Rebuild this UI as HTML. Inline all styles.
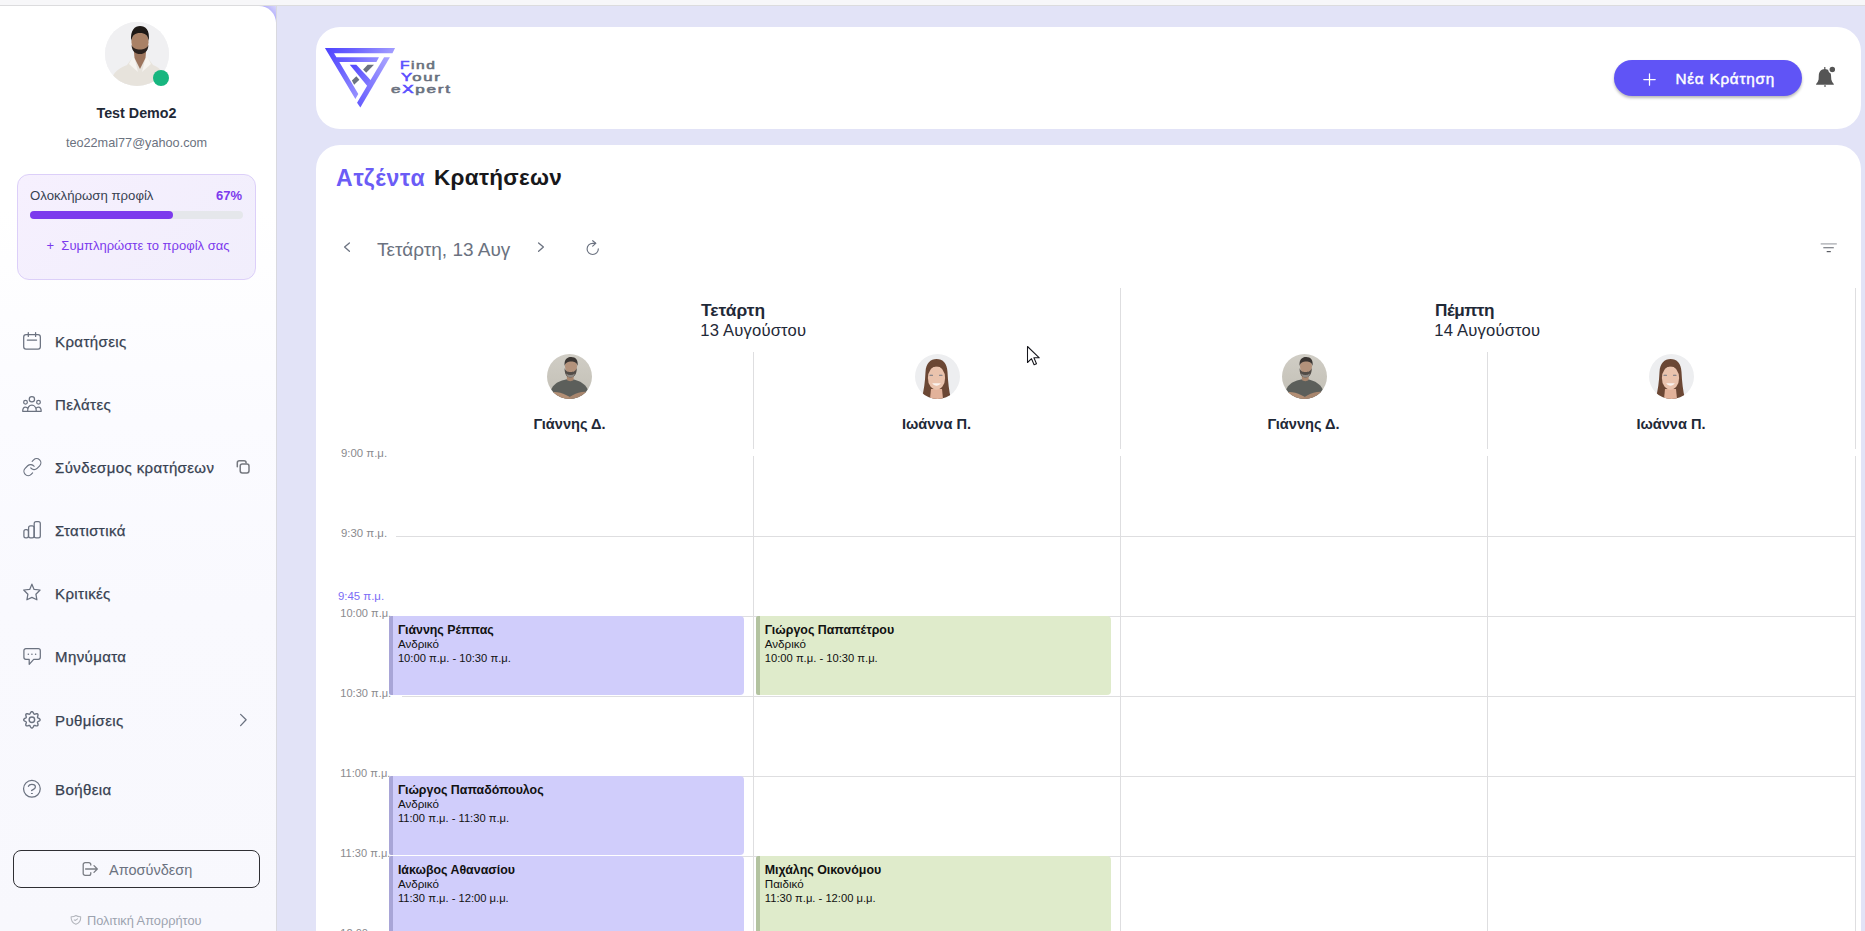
<!DOCTYPE html>
<html><head><meta charset="utf-8">
<style>
*{box-sizing:border-box;margin:0;padding:0}
html,body{width:1865px;height:931px;overflow:hidden}
body{position:relative;background:#E2E3F7;font-family:"Liberation Sans",sans-serif;color:#1f2937}
.abs{position:absolute}
.t{position:absolute;white-space:nowrap;line-height:1}
#topstrip{left:0;top:0;width:1865px;height:6px;background:#F7F7F9;border-bottom:1px solid #DCDCDE}
#sbback{left:256px;top:6px;width:20px;height:24px;background:linear-gradient(225deg,#D8D6FC 0%,#A8A3FB 40%,#8C86FA 70%)}
#sidebar{left:0;top:6px;width:276px;height:925px;background:linear-gradient(180deg,#FFFFFF 0%,#FFFFFF 22%,#FBFBFF 45%,#F9F9FE 65%,#F8F8FD 100%);border-top-right-radius:17px}
#sbline{left:276px;top:6px;width:1px;height:925px;background:#D9D9DF}
#header{left:316px;top:27px;width:1545px;height:102px;background:#fff;border-radius:24px}
#main{left:316px;top:145px;width:1545px;height:820px;background:#fff;border-radius:24px}
.nav{position:absolute;left:0;width:276px;height:24px}
.nav svg{position:absolute;left:22px;top:2px;width:20px;height:20px;fill:none;stroke:#6B7280;stroke-width:1.5;stroke-linecap:round;stroke-linejoin:round}
.nav span{position:absolute;left:55px;top:4px;font-size:15.2px;color:#374151;line-height:1;white-space:nowrap;-webkit-text-stroke:0.15px #374151}
.ev{position:absolute;border-radius:2px 4px 4px 2px;color:#111;white-space:nowrap;overflow:hidden}
.ev div{position:absolute;left:8.5px;line-height:14px}
.ev .n{top:6.6px;font-size:12.4px;font-weight:bold}
.ev .s{top:20.9px;font-size:11.6px}
.ev .m{top:34.9px;font-size:11.2px}
.ev1{background:linear-gradient(90deg,#A8A5D7 3.5px,#D0CDFB 3.5px)}
.ev2{background:linear-gradient(90deg,#B3C3A0 3.5px,#DFEBCB 3.5px)}
</style></head><body>
<div id="topstrip" class="abs"></div>
<div id="sbback" class="abs"></div>
<div id="sidebar" class="abs"></div>
<div id="sbline" class="abs"></div>

<!-- avatar -->
<div class="abs" style="left:105px;top:22px;width:64px;height:64px;border-radius:50%;overflow:hidden;background:#F1F1F3">
<svg width="64" height="64" viewBox="0 0 64 64">
<rect width="64" height="64" fill="#F0F0F2"/>
<path d="M5 64 C6 52 12 47 22 43 L28 35 L35 42 L42 35 L48 43 C56 46 60 52 61 64 Z" fill="#E7E3DC"/>
<path d="M29 30 L29.5 36 L35 47 L40.5 36 L41 30Z" fill="#9C755D"/>
<path d="M28 34 L24 42 L33 50 L30 38Z M42 34 L46 42 L37 50 L40 38Z" fill="#F6F4F0"/>
<ellipse cx="35" cy="20" rx="8.6" ry="11" fill="#A98166"/>
<path d="M26.2 19 C25 8 30 4 35 4 C40.5 4 45 7.5 43.8 19 C42.8 13 40 11 35 11 C30 11 27.5 13 26.2 19Z" fill="#1E1916"/>
<path d="M26.5 23 C27 29.5 30.5 32 35 32 C39.5 32 43 29.5 43.5 23 C41.5 26.5 39 27.5 35 27.5 C31 27.5 28.5 26.5 26.5 23Z" fill="#2B221E"/>
</svg></div>
<div class="abs" style="left:153px;top:70px;width:16px;height:16px;border-radius:50%;background:#17B67F"></div>

<div class="t" style="left:0;width:273px;text-align:center;top:106px;font-size:14.3px;font-weight:bold;color:#1F2937">Test Demo2</div>
<div class="t" style="left:0;width:273px;text-align:center;top:137px;font-size:12.7px;color:#6B7280">teo22mal77@yahoo.com</div>

<!-- profile card -->
<div class="abs" style="left:17px;top:174px;width:239px;height:106px;border-radius:12px;border:1px solid #DCCFF9;background:linear-gradient(135deg,#F6F0FE 0%,#F1EEFC 100%)"></div>
<div class="t" style="left:30px;top:189px;font-size:13.2px;color:#374151">Ολοκλήρωση προφίλ</div>
<div class="t" style="left:216px;top:189px;font-size:13px;font-weight:bold;color:#7C3AED">67%</div>
<div class="abs" style="left:30px;top:211px;width:213px;height:8px;border-radius:4px;background:#E5E7EB"></div>
<div class="abs" style="left:30px;top:211px;width:143px;height:8px;border-radius:4px;background:#7C3AED"></div>
<div class="t" style="left:0;width:276px;text-align:center;top:239px;font-size:13px;color:#7C3AED">+&nbsp; Συμπληρώστε το προφίλ σας</div>

<!-- nav -->
<svg style="position:absolute;left:18px;top:326px;width:30px;height:30px;fill:none;stroke:#6B7280;stroke-width:1.25;stroke-linecap:round;stroke-linejoin:round" viewBox="0 0 30 30"><rect x="5.7" y="8.6" width="16.65" height="14.5" rx="2.3"/><path d="M10.3 6.5v3.9M17.6 6.5v3.9M9.3 14.1h9.3" /></svg><svg style="position:absolute;left:18px;top:389px;width:30px;height:30px;fill:none;stroke:#6B7280;stroke-width:1.25;stroke-linecap:round;stroke-linejoin:round" viewBox="0 0 30 30"><circle cx="13.9" cy="10.3" r="2.65"/><circle cx="7.5" cy="13.2" r="1.85"/><circle cx="20.5" cy="13.2" r="1.85"/><path d="M4.7 22.3C4.7 19.6 5.8 18 7.4 18c1.1 0 2 .6 2.5 1.6M9.6 22.3c0-3.8 1.9-6.2 4.3-6.2s4.4 2.4 4.4 6.2M17.9 19.6c.5-1 1.4-1.6 2.5-1.6 1.6 0 2.8 1.6 2.8 4.3M4.7 22.3h18.5"/></svg><svg style="position:absolute;left:18px;top:452px;width:30px;height:30px;fill:none;stroke:#6B7280;stroke-width:1.25;stroke-linecap:round;stroke-linejoin:round" viewBox="0 0 30 30"><g transform="translate(4.2,4.9) scale(0.85)" stroke-width="1.4"><path d="M10 13a5 5 0 0 0 7.54.54l3-3a5 5 0 0 0-7.07-7.07l-1.72 1.71"/><path d="M14 11a5 5 0 0 0-7.54-.54l-3 3a5 5 0 0 0 7.07 7.07l1.71-1.71"/></g></svg><svg style="position:absolute;left:228px;top:452px;width:30px;height:30px;fill:none;stroke:#75787F;stroke-width:1.5;stroke-linecap:round;stroke-linejoin:round" viewBox="0 0 30 30"><path d="M9.3 14.8V10.9a2.1 2.1 0 0 1 2.1-2.1h4.6a2.1 2.1 0 0 1 2.1 2.1"/><rect x="12.2" y="12.1" width="8.8" height="8.8" rx="2.1"/></svg><svg style="position:absolute;left:18px;top:515px;width:30px;height:30px;fill:none;stroke:#6B7280;stroke-width:1.25;stroke-linecap:round;stroke-linejoin:round" viewBox="0 0 30 30"><rect x="5.9" y="14.5" width="4.5" height="8.4" rx="1.9"/><rect x="10.6" y="10.8" width="5.5" height="12.1" rx="1.9"/><rect x="16.2" y="6.7" width="6.1" height="16.2" rx="1.9"/></svg><svg style="position:absolute;left:18px;top:578px;width:30px;height:30px;fill:none;stroke:#6B7280;stroke-width:1.25;stroke-linecap:round;stroke-linejoin:round" viewBox="0 0 30 30"><path d="M13.9 6.2 L16.1 11.4 L22.1 12 L17.9 16.2 L18.9 21.8 L13.9 19.4 L8.9 21.8 L9.9 16.2 L5.7 12 L11.7 11.4 Z"/></svg><svg style="position:absolute;left:18px;top:641px;width:30px;height:30px;fill:none;stroke:#6B7280;stroke-width:1.25;stroke-linecap:round;stroke-linejoin:round" viewBox="0 0 30 30"><path d="M7.9 7.7h12.4a2 2 0 0 1 2 2v6.6a2 2 0 0 1-2 2h-4.6l-4.5 5v-5H7.9a2 2 0 0 1-2-2V9.7a2 2 0 0 1 2-2z"/><path d="M10.3 13.2h.05M13.9 13.2h.05M17.6 13.2h.05" stroke-width="1.5"/></svg><svg style="position:absolute;left:18px;top:705px;width:30px;height:30px;fill:none;stroke:#6B7280;stroke-width:1.4;stroke-linecap:round;stroke-linejoin:round" viewBox="0 0 30 30"><path d="M13.90 6.60 L14.22 6.66 L14.53 6.83 L14.81 7.09 L15.07 7.42 L15.29 7.79 L15.49 8.16 L15.67 8.51 L15.85 8.81 L16.03 9.03 L16.23 9.16 L16.48 9.21 L16.76 9.19 L17.09 9.10 L17.47 8.98 L17.87 8.85 L18.29 8.75 L18.71 8.70 L19.10 8.72 L19.43 8.82 L19.70 9.00 L19.88 9.27 L19.98 9.60 L20.00 9.99 L19.95 10.41 L19.85 10.83 L19.72 11.23 L19.60 11.61 L19.51 11.94 L19.49 12.22 L19.54 12.47 L19.67 12.67 L19.89 12.85 L20.19 13.03 L20.54 13.21 L20.91 13.41 L21.28 13.63 L21.61 13.89 L21.87 14.17 L22.04 14.48 L22.10 14.80 L22.04 15.12 L21.87 15.43 L21.61 15.71 L21.28 15.97 L20.91 16.19 L20.54 16.39 L20.19 16.57 L19.89 16.75 L19.67 16.93 L19.54 17.13 L19.49 17.38 L19.51 17.66 L19.60 17.99 L19.72 18.37 L19.85 18.77 L19.95 19.19 L20.00 19.61 L19.98 20.00 L19.88 20.33 L19.70 20.60 L19.43 20.78 L19.10 20.88 L18.71 20.90 L18.29 20.85 L17.87 20.75 L17.47 20.62 L17.09 20.50 L16.76 20.41 L16.48 20.39 L16.23 20.44 L16.03 20.57 L15.85 20.79 L15.67 21.09 L15.49 21.44 L15.29 21.81 L15.07 22.18 L14.81 22.51 L14.53 22.77 L14.22 22.94 L13.90 23.00 L13.58 22.94 L13.27 22.77 L12.99 22.51 L12.73 22.18 L12.51 21.81 L12.31 21.44 L12.13 21.09 L11.95 20.79 L11.77 20.57 L11.57 20.44 L11.32 20.39 L11.04 20.41 L10.71 20.50 L10.33 20.62 L9.93 20.75 L9.51 20.85 L9.09 20.90 L8.70 20.88 L8.37 20.78 L8.10 20.60 L7.92 20.33 L7.82 20.00 L7.80 19.61 L7.85 19.19 L7.95 18.77 L8.08 18.37 L8.20 17.99 L8.29 17.66 L8.31 17.38 L8.26 17.13 L8.13 16.93 L7.91 16.75 L7.61 16.57 L7.26 16.39 L6.89 16.19 L6.52 15.97 L6.19 15.71 L5.93 15.43 L5.76 15.12 L5.70 14.80 L5.76 14.48 L5.93 14.17 L6.19 13.89 L6.52 13.63 L6.89 13.41 L7.26 13.21 L7.61 13.03 L7.91 12.85 L8.13 12.67 L8.26 12.47 L8.31 12.22 L8.29 11.94 L8.20 11.61 L8.08 11.23 L7.95 10.83 L7.85 10.41 L7.80 9.99 L7.82 9.60 L7.92 9.27 L8.10 9.00 L8.37 8.82 L8.70 8.72 L9.09 8.70 L9.51 8.75 L9.93 8.85 L10.33 8.98 L10.71 9.10 L11.04 9.19 L11.32 9.21 L11.57 9.16 L11.77 9.03 L11.95 8.81 L12.13 8.51 L12.31 8.16 L12.51 7.79 L12.73 7.42 L12.99 7.09 L13.27 6.83 L13.58 6.66 L13.90 6.60Z"/><circle cx="13.9" cy="14.8" r="2.75"/></svg><svg style="position:absolute;left:228px;top:705px;width:30px;height:30px;fill:none;stroke:#6B7280;stroke-width:1.3;stroke-linecap:round;stroke-linejoin:round" viewBox="0 0 30 30"><path d="M12.6 9.4l5.5 5.4-5.5 5.8" /></svg><svg style="position:absolute;left:18px;top:774px;width:30px;height:30px;fill:none;stroke:#6B7280;stroke-width:1.25;stroke-linecap:round;stroke-linejoin:round" viewBox="0 0 30 30"><circle cx="13.9" cy="14.8" r="8.35"/><path d="M10.4 12.3c.5-1.3 1.8-2 3.4-2 2 0 3.6 1.1 3.6 2.7 0 1.9-2.2 2.3-3.8 3.5"/><path d="M13.4 19.5h1" stroke-width="1.1"/></svg><div style="position:absolute;left:55px;font-size:15px;letter-spacing:0.4px;color:#374151;line-height:1;white-space:nowrap;-webkit-text-stroke:0.25px #374151;top:333.8px">Κρατήσεις</div>
<div style="position:absolute;left:55px;font-size:15px;letter-spacing:0.4px;color:#374151;line-height:1;white-space:nowrap;-webkit-text-stroke:0.25px #374151;top:396.8px">Πελάτες</div>
<div style="position:absolute;left:55px;font-size:15px;letter-spacing:0.4px;color:#374151;line-height:1;white-space:nowrap;-webkit-text-stroke:0.25px #374151;top:459.8px">Σύνδεσμος κρατήσεων</div>
<div style="position:absolute;left:55px;font-size:15px;letter-spacing:0.4px;color:#374151;line-height:1;white-space:nowrap;-webkit-text-stroke:0.25px #374151;top:522.8px">Στατιστικά</div>
<div style="position:absolute;left:55px;font-size:15px;letter-spacing:0.4px;color:#374151;line-height:1;white-space:nowrap;-webkit-text-stroke:0.25px #374151;top:585.8px">Κριτικές</div>
<div style="position:absolute;left:55px;font-size:15px;letter-spacing:0.4px;color:#374151;line-height:1;white-space:nowrap;-webkit-text-stroke:0.25px #374151;top:649px">Μηνύματα</div>
<div style="position:absolute;left:55px;font-size:15px;letter-spacing:0.4px;color:#374151;line-height:1;white-space:nowrap;-webkit-text-stroke:0.25px #374151;top:712.7px">Ρυθμίσεις</div>
<div style="position:absolute;left:55px;font-size:15px;letter-spacing:0.4px;color:#374151;line-height:1;white-space:nowrap;-webkit-text-stroke:0.25px #374151;top:782.1px">Βοήθεια</div>
<!-- logout -->
<div class="abs" style="left:13px;top:850px;width:247px;height:38px;border:1.5px solid #2F2F33;border-radius:8px"></div>
<svg class="abs" style="left:75px;top:854px;width:30px;height:30px;fill:none;stroke:#7A7D84;stroke-width:1.3;stroke-linecap:round;stroke-linejoin:round" viewBox="0 0 30 30"><path d="M15.8 11.1V10.6a1.9 1.9 0 0 0-1.9-1.9H10.1a1.9 1.9 0 0 0-1.9 1.9v8.8a1.9 1.9 0 0 0 1.9 1.9h3.8a1.9 1.9 0 0 0 1.9-1.9v-.7"/><path d="M10.6 15h11.6M19 11.6l3.3 3.4-3.3 3.4"/></svg>
<div class="t" style="left:109px;top:863px;font-size:14.5px;color:#6B7280">Αποσύνδεση</div>
<svg class="abs" style="left:64px;top:906px;width:24px;height:24px;fill:none;stroke:#B3B6BD;stroke-width:1.05;stroke-linecap:round;stroke-linejoin:round" viewBox="0 0 24 24"><path d="M11.9 9.5c1.4 1 3 1.3 4.8 1.2.2 3.6-1.3 6.3-4.8 7.6-3.5-1.3-5-4-4.8-7.5 1.8.1 3.4-.3 4.8-1.3z"/><path d="M10.2 13.9l1 .6 2.4-1.6"/></svg>
<div class="t" style="left:87px;top:915px;font-size:12.8px;color:#9CA3AF">Πολιτική Απορρήτου</div>

<div id="header" class="abs"></div>
<div id="main" class="abs"></div>

<!-- logo -->
<svg class="abs" style="left:322px;top:44px;width:78px;height:68px" viewBox="0 0 1068 931">
<defs>
<linearGradient id="lg1" x1="0" y1="0" x2="1" y2="0.45"><stop offset="0" stop-color="#4C42FF"/><stop offset="0.35" stop-color="#6A61FF"/><stop offset="1" stop-color="#B5B1FF"/></linearGradient>
<linearGradient id="lg2" x1="0" y1="1" x2="1" y2="0"><stop offset="0" stop-color="#6359FF"/><stop offset="1" stop-color="#ABA6FF"/></linearGradient>
<linearGradient id="lg3" x1="0" y1="0" x2="1" y2="1"><stop offset="0" stop-color="#4F45FF"/><stop offset="1" stop-color="#8A82FF"/></linearGradient>
</defs>
<path d="M40 55 L1000 55 L965 125 L165 125 L198 180 L780 180 L745 245 L237 245 L497 685 L457 752 Z" fill="url(#lg1)"/>
<path d="M380 285 L470 285 L690 520 L640 600 Z" fill="url(#lg3)"/>
<path d="M850 180 L930 180 L525 870 L480 805 Z" fill="url(#lg2)"/>
<path d="M625 285 L712 285 L605 392 L563 350 Z" fill="#6B7280"/>
<path d="M470 442 L512 488 L440 558 L410 500 Z" fill="#6B7280"/>
</svg>
<div style="position:absolute;white-space:nowrap;line-height:1;font-weight:normal;-webkit-text-stroke:0.55px currentColor;font-size:11px;color:#6B7280;letter-spacing:1.1px;transform-origin:0 0;left:400px;top:59.5px;transform:scaleX(1.41)"><span style="color:#5B50FF">F</span>ind</div>
<div style="position:absolute;white-space:nowrap;line-height:1;font-weight:normal;-webkit-text-stroke:0.55px currentColor;font-size:11px;color:#6B7280;letter-spacing:1.1px;transform-origin:0 0;left:401px;top:71.5px;transform:scaleX(1.52)"><span style="color:#5B50FF">Y</span>our</div>
<div style="position:absolute;white-space:nowrap;line-height:1;font-weight:normal;-webkit-text-stroke:0.55px currentColor;font-size:11px;color:#6B7280;letter-spacing:1.1px;transform-origin:0 0;left:390.5px;top:83.5px;transform:scaleX(1.555)">e<span style="color:#5B50FF">X</span>pert</div>

<!-- new booking button -->
<div class="abs" style="left:1614px;top:60px;width:188px;height:36px;border-radius:18px;background:#6054F6;box-shadow:0 2px 3px rgba(0,0,0,0.28)"></div>
<svg class="abs" style="left:1643px;top:72.5px;width:13px;height:13px;fill:none;stroke:#fff;stroke-width:1.25;stroke-linecap:round" viewBox="0 0 13 13"><path d="M6.5 0.8v11.4M0.8 6.5h11.4"/></svg>
<div class="t" style="left:1675.5px;top:71px;font-size:15.3px;font-weight:normal;color:#fff;letter-spacing:0.75px;-webkit-text-stroke:0.45px #fff">Νέα Κράτηση</div>
<!-- bell -->
<svg class="abs" style="left:1813px;top:64px;width:24px;height:26px" viewBox="0 0 24 26"><rect x="11.2" y="3" width="1.2" height="3" fill="#555"/><path d="M11.8 5C8.4 5 5.9 7.8 5.8 11.2L5.6 15.6Q5.3 17.6 3.1 19.9V20.8H20.8V19.9Q18.6 17.6 18.3 15.6L18 11.2C17.9 7.8 15.2 5 11.8 5Z" fill="#555"/><ellipse cx="12" cy="22.1" rx="1.1" ry="0.75" fill="#555"/><circle cx="19.3" cy="5.4" r="3.4" fill="#555" stroke="#fff" stroke-width="1.3"/></svg>

<!-- title -->
<div class="t" style="left:336px;top:166.7px;font-size:23px;letter-spacing:0.8px;font-weight:bold;color:#6B5CF6">Ατζέντα</div>
<div class="t" style="left:434px;top:167.2px;font-size:22.5px;letter-spacing:0.3px;font-weight:bold;color:#18181B">Κρατήσεων</div>

<!-- date nav -->
<svg class="abs" style="left:342px;top:241px;width:10px;height:12px;fill:none;stroke:#6B7280;stroke-width:1.3;stroke-linecap:round;stroke-linejoin:round" viewBox="0 0 10 12"><path d="M7.4 1.9L2.6 6l4.8 4.2"/></svg>
<div class="t" style="left:377px;top:240px;font-size:19px;color:#6B7280">Τετάρτη, 13 Αυγ</div>
<svg class="abs" style="left:536px;top:241px;width:10px;height:12px;fill:none;stroke:#6B7280;stroke-width:1.3;stroke-linecap:round;stroke-linejoin:round" viewBox="0 0 10 12"><path d="M2.6 1.9L7.4 6l-4.8 4.2"/></svg>
<svg class="abs" style="left:584px;top:239px;width:18px;height:18px;fill:none;stroke:#6B7280;stroke-width:1.15;stroke-linecap:round;stroke-linejoin:round" viewBox="0 0 18 18"><path d="M14.3 9.9A5.6 5.6 0 1 1 8.7 4.3h3"/><path d="M8.7 1.7l3 2.6-3 2.9"/></svg>
<!-- filter -->
<svg class="abs" style="left:1819px;top:240px;width:20px;height:14px;fill:none;stroke-width:1.2" viewBox="0 0 20 14"><path d="M1.7 3.9h16.1" stroke="#A3A5AB"/><path d="M4.3 7.7h10.5" stroke="#7B7E85"/><path d="M7.7 11.6h4.1" stroke="#5A5D64"/></svg>

<!-- day headers -->
<div class="abs" style="left:1120px;top:288px;width:1px;height:161px;background:#DEDEE0"></div>
<div class="abs" style="left:1855px;top:288px;width:1px;height:161px;background:#DEDEE0"></div>
<div class="abs" style="left:753px;top:352px;width:1px;height:97px;background:#DEDEE0"></div>
<div class="abs" style="left:1487px;top:352px;width:1px;height:97px;background:#DEDEE0"></div>

<div class="t" style="left:701px;top:302px;font-size:17.4px;font-weight:bold;color:#1F2937">Τετάρτη</div>
<div class="t" style="left:700.3px;top:323px;font-size:16.6px;letter-spacing:0.18px;color:#1F2937">13 Αυγούστου</div>
<div class="t" style="left:1435px;top:302px;font-size:17.2px;letter-spacing:-0.5px;font-weight:bold;color:#1F2937">Πέμπτη</div>
<div class="t" style="left:1434.3px;top:323px;font-size:16.6px;letter-spacing:0.18px;color:#1F2937">14 Αυγούστου</div>

<div class="t" style="left:386px;width:367px;text-align:center;top:416.8px;font-size:14.6px;font-weight:bold;color:#1F2937">Γιάννης Δ.</div>
<div class="t" style="left:753px;width:367px;text-align:center;top:416.8px;font-size:14.6px;font-weight:bold;color:#1F2937">Ιωάννα Π.</div>
<div class="t" style="left:1120px;width:367px;text-align:center;top:416.8px;font-size:14.6px;font-weight:bold;color:#1F2937">Γιάννης Δ.</div>
<div class="t" style="left:1487px;width:368px;text-align:center;top:416.8px;font-size:14.6px;font-weight:bold;color:#1F2937">Ιωάννα Π.</div>

<div class="abs" style="left:547px;top:354px;width:45px;height:45px;border-radius:50%;overflow:hidden"><svg width="45" height="45" viewBox="0 0 45 45"><defs><linearGradient id="mbg" x1="0" y1="0" x2="0" y2="1"><stop offset="0" stop-color="#D0CDC5"/><stop offset="1" stop-color="#C2BFB5"/></linearGradient></defs><rect width="45" height="45" fill="url(#mbg)"/>
<path d="M3 45 L4 36 C6 31 10 28 15 26.5 L21 25 L27 25.5 C33 27 38 30 40.5 35 L42 45Z" fill="#5C5F5B"/>
<path d="M19.5 18 L20 26 C21.5 27.5 25 27.5 26.5 26 L27 18Z" fill="#A9876F"/>
<ellipse cx="24" cy="12.5" rx="6" ry="7.5" fill="#B3927B"/>
<path d="M17.6 12 C17 5.5 20 3 24.2 3 C28.8 3 31.3 5.8 30.6 12 C29.8 8.5 27.5 7.5 24.2 7.5 C21 7.5 18.6 8.5 17.6 12Z" fill="#3B3633"/>
<path d="M17.6 14 C17.5 20 19.5 23.5 23.5 23.5 C27.5 23.5 29.8 20 29.8 14 C28.5 17.5 26.5 18 23.5 18 C20.5 18 18.8 17.5 17.6 14Z" fill="#524C47"/>
<path d="M19 19.5 C20 22.5 21.5 23.5 23.5 23.5 C25.5 23.5 27 22.5 28 19.5 C26.5 20.5 25 21 23.5 21 C22 21 20.5 20.5 19 19.5Z" fill="#8E8984"/>
<path d="M3 38.5 C8 37 14 38.5 19 41 L25 44 L24 45 L3 45Z" fill="#B38F75"/>
<path d="M42 38 C36 37 30 38.5 26 41 L20 44.5 L21 45 L42 45Z" fill="#A8866E"/>
</svg></div>
<div class="abs" style="left:915px;top:354px;width:45px;height:45px;border-radius:50%;overflow:hidden"><svg width="45" height="45" viewBox="0 0 45 45"><rect width="45" height="45" fill="#EDEEF0"/>
<path d="M6.5 45 C9 36 10 28 10.5 18 C11 9 15.5 5 21.5 5 C28 5 32 9 32.5 18 C33 28 34 37 36 45Z" fill="#6B4734"/>
<path d="M15 45 L16 35 L27 35 L28 45Z" fill="#E2B29A"/>
<ellipse cx="21.5" cy="24" rx="8.6" ry="11.8" fill="#EAC3AD"/>
<path d="M12.5 19 C13 12 16.5 9 21 9 C25.5 9 29.5 12 30.5 19 C28.5 14.5 26 12.5 22 12.5 C17.5 12.5 14.5 14.5 12.5 19Z" fill="#6B4734"/>
<path d="M17.2 29.2 C19 32.5 24 32.5 25.8 29.2Z" fill="#FAF2EE"/>
<path d="M15 21.3h2.5M24.5 21.3h2.5" stroke="#6D7480" stroke-width="1.1" stroke-linecap="round"/>
</svg></div>
<div class="abs" style="left:1282px;top:354px;width:45px;height:45px;border-radius:50%;overflow:hidden"><svg width="45" height="45" viewBox="0 0 45 45"><defs><linearGradient id="mbg" x1="0" y1="0" x2="0" y2="1"><stop offset="0" stop-color="#D0CDC5"/><stop offset="1" stop-color="#C2BFB5"/></linearGradient></defs><rect width="45" height="45" fill="url(#mbg)"/>
<path d="M3 45 L4 36 C6 31 10 28 15 26.5 L21 25 L27 25.5 C33 27 38 30 40.5 35 L42 45Z" fill="#5C5F5B"/>
<path d="M19.5 18 L20 26 C21.5 27.5 25 27.5 26.5 26 L27 18Z" fill="#A9876F"/>
<ellipse cx="24" cy="12.5" rx="6" ry="7.5" fill="#B3927B"/>
<path d="M17.6 12 C17 5.5 20 3 24.2 3 C28.8 3 31.3 5.8 30.6 12 C29.8 8.5 27.5 7.5 24.2 7.5 C21 7.5 18.6 8.5 17.6 12Z" fill="#3B3633"/>
<path d="M17.6 14 C17.5 20 19.5 23.5 23.5 23.5 C27.5 23.5 29.8 20 29.8 14 C28.5 17.5 26.5 18 23.5 18 C20.5 18 18.8 17.5 17.6 14Z" fill="#524C47"/>
<path d="M19 19.5 C20 22.5 21.5 23.5 23.5 23.5 C25.5 23.5 27 22.5 28 19.5 C26.5 20.5 25 21 23.5 21 C22 21 20.5 20.5 19 19.5Z" fill="#8E8984"/>
<path d="M3 38.5 C8 37 14 38.5 19 41 L25 44 L24 45 L3 45Z" fill="#B38F75"/>
<path d="M42 38 C36 37 30 38.5 26 41 L20 44.5 L21 45 L42 45Z" fill="#A8866E"/>
</svg></div>
<div class="abs" style="left:1649px;top:354px;width:45px;height:45px;border-radius:50%;overflow:hidden"><svg width="45" height="45" viewBox="0 0 45 45"><rect width="45" height="45" fill="#EDEEF0"/>
<path d="M6.5 45 C9 36 10 28 10.5 18 C11 9 15.5 5 21.5 5 C28 5 32 9 32.5 18 C33 28 34 37 36 45Z" fill="#6B4734"/>
<path d="M15 45 L16 35 L27 35 L28 45Z" fill="#E2B29A"/>
<ellipse cx="21.5" cy="24" rx="8.6" ry="11.8" fill="#EAC3AD"/>
<path d="M12.5 19 C13 12 16.5 9 21 9 C25.5 9 29.5 12 30.5 19 C28.5 14.5 26 12.5 22 12.5 C17.5 12.5 14.5 14.5 12.5 19Z" fill="#6B4734"/>
<path d="M17.2 29.2 C19 32.5 24 32.5 25.8 29.2Z" fill="#FAF2EE"/>
<path d="M15 21.3h2.5M24.5 21.3h2.5" stroke="#6D7480" stroke-width="1.1" stroke-linecap="round"/>
</svg></div>

<!-- grid -->
<div class="abs" style="left:753px;top:456px;width:1px;height:480px;background:#DEDEE0"></div>
<div class="abs" style="left:1120px;top:456px;width:1px;height:480px;background:#DEDEE0"></div>
<div class="abs" style="left:1487px;top:456px;width:1px;height:480px;background:#DEDEE0"></div>
<div class="abs" style="left:1855px;top:456px;width:1px;height:480px;background:#DEDEE0"></div>
<div class="abs" style="left:395px;top:536px;width:1461px;height:1px;background:#DEDEE0"></div>
<div class="abs" style="left:395px;top:616px;width:1461px;height:1px;background:#DEDEE0"></div>
<div class="abs" style="left:395px;top:696px;width:1461px;height:1px;background:#DEDEE0"></div>
<div class="abs" style="left:395px;top:776px;width:1461px;height:1px;background:#DEDEE0"></div>
<div class="abs" style="left:395px;top:856px;width:1461px;height:1px;background:#DEDEE0"></div>

<div class="t" style="left:341px;top:448px;font-size:11.4px;color:#8A8A8E;background:#fff;padding-right:8.5px">9:00 π.μ.</div>
<div class="t" style="left:341px;top:528px;font-size:11.4px;color:#8A8A8E;background:#fff;padding-right:8.5px">9:30 π.μ.</div>
<div class="t" style="left:338px;top:591px;font-size:11.4px;color:#7B6CF6">9:45 π.μ.</div>
<div class="t" style="left:340.3px;top:608.3px;font-size:11.05px;color:#8A8A8E;background:#fff;padding-right:10.5px">10:00 π.μ.</div>
<div class="t" style="left:340.3px;top:688.3px;font-size:11.05px;color:#8A8A8E;background:#fff;padding-right:10.5px">10:30 π.μ.</div>
<div class="t" style="left:340.3px;top:768.3px;font-size:11.05px;color:#8A8A8E;background:#fff;padding-right:10.5px">11:00 π.μ.</div>
<div class="t" style="left:340.3px;top:848.3px;font-size:11.05px;color:#8A8A8E;background:#fff;padding-right:10.5px">11:30 π.μ.</div>
<div class="t" style="left:340.3px;top:928.3px;font-size:11.05px;color:#8A8A8E;background:#fff;padding-right:10.5px">12:00 μ.μ.</div>

<!-- events -->
<div class="ev ev1" style="left:389.4px;top:616px;width:354.6px;height:79px"><div class="n">Γιάννης Ρέππας</div><div class="s">Ανδρικό</div><div class="m">10:00 π.μ. - 10:30 π.μ.</div></div>
<div class="ev ev1" style="left:389.4px;top:776px;width:354.6px;height:79px"><div class="n">Γιώργος Παπαδόπουλος</div><div class="s">Ανδρικό</div><div class="m">11:00 π.μ. - 11:30 π.μ.</div></div>
<div class="ev ev1" style="left:389.4px;top:856px;width:354.6px;height:79px"><div class="n">Ιάκωβος Αθανασίου</div><div class="s">Ανδρικό</div><div class="m">11:30 π.μ. - 12:00 μ.μ.</div></div>
<div class="ev ev2" style="left:756.3px;top:616px;width:354.7px;height:79px"><div class="n">Γιώργος Παπαπέτρου</div><div class="s">Ανδρικό</div><div class="m">10:00 π.μ. - 10:30 π.μ.</div></div>
<div class="ev ev2" style="left:756.3px;top:856px;width:354.7px;height:79px"><div class="n">Μιχάλης Οικονόμου</div><div class="s">Παιδικό</div><div class="m">11:30 π.μ. - 12:00 μ.μ.</div></div>
<!-- cursor -->
<svg class="abs" style="left:1026px;top:345px;width:14px;height:22px" viewBox="0 0 14 22"><path d="M1.5 1.5v16l4-3.8 2.6 6 2.4-1-2.6-5.9h5.4z" fill="#fff" stroke="#16161C" stroke-width="1.05" stroke-linejoin="round"/></svg>

</body></html>
